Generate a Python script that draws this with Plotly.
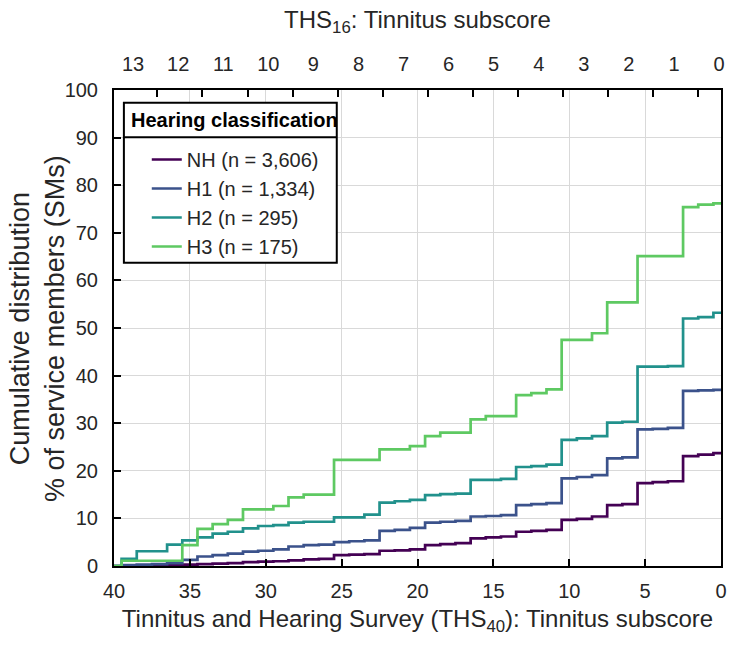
import plotly.graph_objects as go

# THS40 tinnitus subscore (x) and cumulative % of service members at or above each score
scores = list(range(40, -1, -1))

nh = [0.0, 0.05, 0.1, 0.15, 0.2, 0.3, 0.4, 0.5, 0.6, 0.8, 0.9, 1.0, 1.2, 1.4, 1.5,
      2.3, 2.4, 2.5, 3.2, 3.3, 3.5, 4.4, 4.6, 4.8, 5.8, 6.0, 6.2, 7.2, 7.4, 7.6,
      9.7, 9.9, 10.4, 12.8, 13.0, 17.4, 17.6, 17.8, 23.1, 23.4, 23.7]
h1 = [0.0, 0.2, 0.3, 0.4, 0.6, 1.3, 2.0, 2.3, 2.6, 3.0, 3.2, 3.5, 4.1, 4.4, 4.5,
      5.0, 5.2, 5.4, 7.4, 7.6, 8.0, 9.1, 9.3, 9.5, 10.4, 10.5, 10.7, 12.8, 13.0, 13.2,
      18.4, 18.7, 19.1, 22.6, 22.8, 28.7, 28.8, 29.0, 36.8, 36.9, 37.0]
h2 = [0.0, 1.5, 3.1, 3.1, 4.5, 5.4, 6.0, 6.8, 7.2, 7.9, 8.4, 8.6, 9.1, 9.3, 9.3,
      10.2, 10.2, 10.8, 13.3, 13.6, 13.9, 14.9, 15.1, 15.2, 18.1, 18.1, 18.3, 20.8, 21.0, 21.3,
      26.5, 26.8, 27.3, 30.1, 30.3, 41.9, 41.9, 42.0, 52.0, 52.3, 53.2]
h3 = [0.0, 1.1, 1.1, 1.1, 1.1, 4.4, 7.8, 8.8, 9.7, 11.9, 11.9, 12.6, 14.4, 15.0, 15.0,
      22.3, 22.3, 22.3, 24.5, 24.5, 25.2, 27.3, 28.0, 28.0, 30.8, 31.5, 31.5, 35.9, 36.3, 37.1,
      47.5, 47.5, 48.9, 55.4, 55.4, 65.1, 65.1, 65.1, 75.4, 75.9, 76.2]

series_names = ["NH (n = 3,606)", "H1 (n = 1,334)", "H2 (n = 295)", "H3 (n = 175)"]
series_values = [nh, h1, h2, h3]
series_colors = ["#440154", "#3b528b", "#21918c", "#5ec962"]

# THS16 tinnitus subscore labels shown along the top edge
ths16_labels = list(range(13, -1, -1))

SANS = "Liberation Sans, Arial, Helvetica, sans-serif"
TEXT = "#262626"


def ths16_label_pos(s):
    return 0.13 + 2.97 * s


def ths16_tick_pos(s):
    return ths16_label_pos(s) - 1.6


fig = go.Figure()
for name, vals, col in zip(series_names, series_values, series_colors):
    fig.add_trace(go.Scatter(
        x=scores, y=vals, name=name, mode="lines",
        line=dict(color=col, width=2.7, shape="hvh"),
    ))

# invisible traces carrying the two top axes (labels / tick marks)
fig.add_trace(go.Scatter(x=[40, 0], y=[0, 0], xaxis="x2", mode="lines",
                         line=dict(width=0), showlegend=False, hoverinfo="skip"))
fig.add_trace(go.Scatter(x=[40, 0], y=[0, 0], xaxis="x3", mode="lines",
                         line=dict(width=0), showlegend=False, hoverinfo="skip"))

axis_common = dict(range=[40, 0], zeroline=False)

fig.update_layout(
    width=731, height=649,
    margin=dict(l=114, r=4, t=90, b=83),
    plot_bgcolor="white", paper_bgcolor="white",
    font=dict(family=SANS, size=20, color=TEXT),
    xaxis=dict(
        **axis_common,
        tickvals=list(range(0, 41, 5)),
        ticks="inside", ticklen=7, tickwidth=2, tickcolor="black",
        showline=True, linecolor="black", linewidth=2, mirror=True,
        showgrid=True, gridcolor="#d9d9d9", gridwidth=1,
        tickfont=dict(family=SANS, size=20, color=TEXT),
        ticklabelstandoff=6,
        title=dict(text="Tinnitus and Hearing Survey (THS<sub>40</sub>): Tinnitus subscore",
                   font=dict(family=SANS, size=24, color=TEXT), standoff=9),
    ),
    xaxis2=dict(
        **axis_common, overlaying="x", side="top",
        tickvals=[ths16_label_pos(s) for s in ths16_labels],
        ticktext=[str(s) for s in ths16_labels],
        ticks="", showgrid=False, showline=False,
        tickfont=dict(family=SANS, size=20, color=TEXT),
        ticklabelstandoff=14,
        title=dict(text="THS<sub>16</sub>: Tinnitus subscore",
                   font=dict(family=SANS, size=24, color=TEXT), standoff=17),
    ),
    xaxis3=dict(
        **axis_common, overlaying="x", side="top",
        tickvals=[ths16_tick_pos(s) for s in ths16_labels if s > 0],
        ticks="inside", ticklen=7, tickwidth=2, tickcolor="black",
        showticklabels=False, showgrid=False, showline=False,
    ),
    yaxis=dict(
        range=[0, 100], tickvals=list(range(0, 101, 10)),
        ticks="inside", ticklen=7, tickwidth=2, tickcolor="black",
        showline=True, linecolor="black", linewidth=2, mirror=True,
        showgrid=True, gridcolor="#d9d9d9", gridwidth=1, zeroline=False,
        tickfont=dict(family=SANS, size=20, color=TEXT),
        ticklabelstandoff=10,
    ),
    legend=dict(
        x=0.054, y=0.895, xanchor="left", yanchor="top",
        bgcolor="rgba(0,0,0,0)", borderwidth=0,
        font=dict(family=SANS, size=20, color=TEXT),
        tracegroupgap=0,
    ),
    showlegend=True,
    annotations=[
        dict(text="Cumulative distribution<br>% of service members (SMs)",
             xref="paper", yref="paper", x=-0.127, y=0.5,
             xanchor="center", yanchor="middle", textangle=-90, showarrow=False,
             font=dict(family=SANS, size=27, color=TEXT)),
        # legend heading inside its own framed cell
        dict(text="<b>Hearing classification</b>",
             xref="paper", yref="paper", x=0.0245, y=0.937,
             xanchor="left", yanchor="middle", showarrow=False,
             font=dict(family=SANS, size=20, color="black")),
    ],
    shapes=[
        dict(type="rect", xref="paper", yref="paper",
             x0=0.0163, x1=0.367, y0=0.637, y1=0.973,
             fillcolor="white", line=dict(color="black", width=2), layer="above"),
        dict(type="line", xref="paper", yref="paper",
             x0=0.0163, x1=0.367, y0=0.9006, y1=0.9006,
             line=dict(color="black", width=2), layer="above"),
    ],
)

fig.write_html("out.html")
